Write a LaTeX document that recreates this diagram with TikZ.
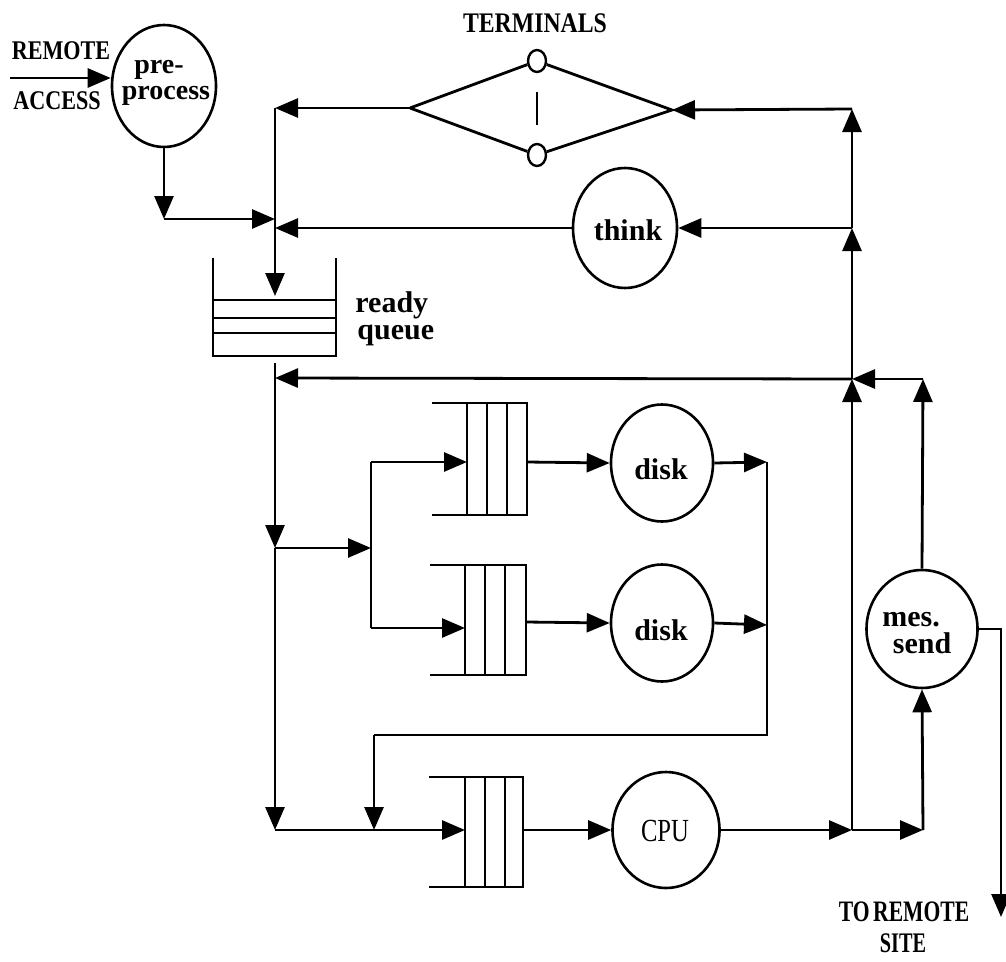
\documentclass[tikz,border=0pt]{standalone}
\usepackage{fontspec}
\setmainfont{Liberation Serif}
\usetikzlibrary{arrows.meta,shapes.geometric}
\begin{document}
\begin{tikzpicture}[x=1pt,y=-1pt,
  line width=2.8pt,
  ar/.style={-{Triangle[length=23pt,width=19pt]}},
  srv/.style={draw, ellipse, inner sep=0pt, line width=2.6pt},
  term/.style={draw, ellipse, inner sep=0pt, line width=2.4pt, minimum width=18pt, minimum height=22pt},
  low/.style={font=\fontsize{30}{25}\selectfont\bfseries, inner sep=0pt, anchor=base},
  caps/.style={font=\fontsize{27}{30}\selectfont\bfseries, inner sep=0pt, anchor=base},
  q/.style={line width=2.6pt}
]
\useasboundingbox (0,0) rectangle (1006,961);

% ---------- servers ----------
\node[srv, minimum width=104pt, minimum height=122pt] (pre)   at (164,86)  {};
\node[srv, minimum width=104pt, minimum height=120pt] (think) at (625,228) {};
\node[srv, minimum width=102pt, minimum height=117pt] (disk1) at (662,463) {};
\node[srv, minimum width=102pt, minimum height=117pt] (disk2) at (662,623) {};
\node[srv, minimum width=107pt, minimum height=116pt] (cpu)   at (666,830) {};
\node[srv, minimum width=111pt, minimum height=118pt] (mes)   at (922,629) {};

% ---------- texts ----------
\node[low, font=\fontsize{28}{25}\selectfont\bfseries] (tpre1) at (159,73) {pre-};
\node[low, font=\fontsize{28}{25}\selectfont\bfseries] (tpre2) at (166,99) {process};
\node[low] (tthink) at (628,240) {think};
\node[low] (td1) at (661,479) {disk};
\node[low] (td2) at (661,640) {disk};
\node[font=\fontsize{28}{30}\selectfont, inner sep=0pt, anchor=base] (tcpu) at (665,841) {\scalebox{0.88}[1.15]{CPU}};
\node[low] (tmes1) at (911,626) {mes.};
\node[low] (tmes2) at (922,653) {send};
\node[low, anchor=base west] (trdy1) at (354,312) {ready};
\node[low, anchor=base west] (trdy2) at (356,339) {queue};
\node[caps] (tterm) at (535,32) {\scalebox{0.88}[1.05]{TERMINALS}};
\node[caps] (trem) at (61,59) {\scalebox{0.82}[1]{REMOTE}};
\node[caps] (tacc) at (57,109) {\scalebox{0.82}[1]{ACCESS}};
\node[caps] (tto) at (904,921) {\scalebox{0.8}[1.1]{TO\,REMOTE}};
\node[caps] (tsite) at (903,952) {\scalebox{0.75}[1.05]{SITE}};

% ---------- terminals ----------
\coordinate (tl) at (410,108);
\coordinate (tr) at (672,110);
\node[term] (t1) at (537,61) {};
\node[term] (t2) at (537,155) {};
\draw (tl) -- (t1) -- (tr) -- (t2) -- (tl);
\draw[line width=2pt] (537,92) coordinate (tm1) -- (537,125) coordinate (tm2);

% ---------- queues ----------
% ready queue
\draw[q] (213,258) -- (213,356) -- (336,356) -- (336,258);
\foreach \yy in {300,318,333} \draw[q] (213,\yy) -- (336,\yy);
% disk queue 1
\draw[q] (432,403) -- (527,403) -- (527,515) -- (432,515);
\foreach \xx in {467,487,507} \draw[q] (\xx,403) -- (\xx,515);
% disk queue 2
\draw[q] (430,565) -- (526,565) -- (526,675) -- (430,675);
\foreach \xx in {465,485,505} \draw[q] (\xx,565) -- (\xx,675);
% cpu queue
\draw[q] (429,777) -- (523,777) -- (523,887) -- (429,887);
\foreach \xx in {465,485,505} \draw[q] (\xx,777) -- (\xx,887);

\coordinate (q1in) at (467,462);  \coordinate (q1out) at (527,462);
\coordinate (q2in) at (465,628);  \coordinate (q2out) at (526,622);
\coordinate (cqin) at (465,830);  \coordinate (cqout) at (523,830);
\coordinate (rqin) at (275,296);  \coordinate (rqout) at (275,363);

% ---------- junctions ----------
\coordinate (ra) at (10,78);
\coordinate (jpre) at (164,219);
\coordinate (jpre2) at (275,219);
\coordinate (j0) at (275,108);
\coordinate (jthink) at (275,228);
\coordinate (jq) at (275,378);
\coordinate (jd) at (275,548);
\coordinate (jb) at (371,548);
\coordinate (jb1) at (371,462);
\coordinate (jb2) at (371,628);
\coordinate (jc) at (275,830);
\coordinate (jf) at (374,830);
\coordinate (jf1) at (374,735);
\coordinate (jr) at (767,735);
\coordinate (jr1) at (767,462);
\coordinate (jr2) at (767,625);
\coordinate (r0) at (852,109);
\coordinate (r1) at (852,228);
\coordinate (r2) at (852,379);
\coordinate (r3) at (852,830);
\coordinate (m2) at (923,379);
\coordinate (m3) at (923,830);
\coordinate (o2) at (1001,917);

% ---------- connectors ----------
\draw[ar] (ra) -- (ra -| pre.west);
\draw[ar] (pre.south) -- (jpre);
\draw[ar] (jpre) -- (jpre2);

\draw[ar] (r3) -- (r2);
\draw[ar] (r2) -- (r1);
\draw[ar] (r1) -- (r0);
\draw[ar] (r0) -- (tr);
\draw[ar] (tl) -- (j0);
\draw[ar] (r1) -- (think.east);
\draw[ar] (think.west) -- (jthink);
\draw[ar] (j0) -- (rqin);
\draw[ar] (r2) -- (jq);

\draw[ar] (rqout) -- (jd);
\draw[ar] (jd) -- (jc);
\draw[ar] (jc) -- (cqin);
\draw[ar] (jd) -- (jb);
\draw (jb1) -- (jb2);
\draw[ar] (jb1) -- (q1in);
\draw[ar] (jb2) -- (q2in);

\draw[ar] (q1out) -- (disk1.west);
\draw[ar] (q2out) -- (disk2.west);
\draw[ar] (disk1.east) -- (jr1);
\draw[ar] (disk2.east) -- (jr2);
\draw (jr1) -- (jr) -- (jf1);
\draw[ar] (jf1) -- (jf);

\draw[ar] (cqout) -- (cpu.west);
\draw[ar] (cpu.east) -- (r3);
\draw[ar] (r3) -- (m3);
\draw[ar] (m3) -- (mes.south);
\draw[ar] (mes.north) -- (m2);
\draw[ar] (m2) -- (r2);
\draw[ar] (mes.east) -| (o2);
\end{tikzpicture}
\end{document}
